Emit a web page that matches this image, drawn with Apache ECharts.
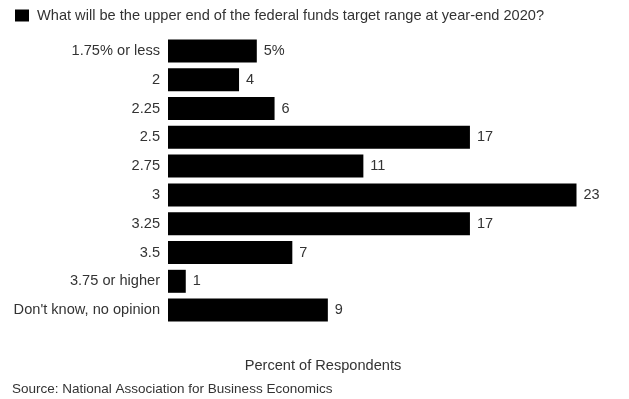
<!DOCTYPE html>
<html>
<head>
<meta charset="utf-8">
<script src="https://cdn.jsdelivr.net/npm/echarts@6/dist/echarts.min.js"></script>
<style>
  html, body { margin: 0; padding: 0; background: #fff; }
  #chart { width: 629px; height: 399px; }
</style>
</head>
<body>
<div id="chart"></div>
<script>
// survey answers, top to bottom
const categories = ['1.75% or less', '2', '2.25', '2.5', '2.75', '3', '3.25', '3.5', '3.75 or higher', "Don't know, no opinion"];
const values = [5, 4, 6, 17, 11, 23, 17, 7, 1, 9];
const seriesName = 'What will be the upper end of the federal funds target range at year-end 2020?';

const FONT = '"Liberation Sans", Arial, sans-serif';

const chart = echarts.init(document.getElementById('chart'));

chart.setOption({
    animation: false,
    backgroundColor: '#fff',
    textStyle: { fontFamily: FONT },
    title: [
        {
            text: 'Percent of Respondents',
            left: 323, top: 358, textAlign: 'center', padding: 0,
            textStyle: { fontSize: 14.6, fontWeight: 'normal', color: '#333', fontFamily: FONT }
        },
        {
            text: 'Source: National Association for Business Economics',
            left: 12, top: 382, padding: 0,
            textStyle: { fontSize: 13.5, fontWeight: 'normal', color: '#333', fontFamily: FONT }
        }
    ],
    legend: {
        left: 15, top: 8, padding: 0,
        icon: 'rect',
        itemWidth: 14, itemHeight: 12,
        textStyle: { fontSize: 14.6, color: '#333', fontFamily: FONT, padding: [0, 0, 0, 3] },
        data: [seriesName]
    },
    grid: { left: 168, top: 36.5, width: 408.5, height: 288, containLabel: false },
    xAxis: {
        type: 'value', min: 0, max: 23,
        show: false
    },
    yAxis: {
        type: 'category',
        inverse: true,
        data: categories,
        axisLine: { show: false },
        axisTick: { show: false },
        axisLabel: { fontSize: 14.6, color: '#333', margin: 8, fontFamily: FONT }
    },
    series: [{
        name: seriesName,
        type: 'bar',
        data: values,
        barWidth: 23,
        itemStyle: { color: '#000' },
        label: {
            show: true,
            position: 'right',
            distance: 7,
            fontSize: 14.5,
            color: '#333',
            fontFamily: FONT,
            formatter: p => p.dataIndex === 0 ? p.value + '%' : String(p.value)
        }
    }]
});
</script>
</body>
</html>
